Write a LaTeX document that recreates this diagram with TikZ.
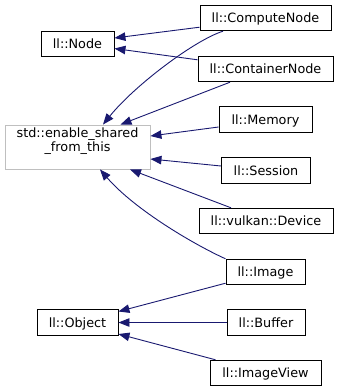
\documentclass[tikz,border=0pt]{standalone}
\usepackage{fontspec}
\setmainfont{DejaVu Sans}
\usetikzlibrary{arrows.meta}
\definecolor{edgeblue}{HTML}{191970}
\definecolor{extgray}{HTML}{BFBFBF}
\begin{document}
\begin{tikzpicture}[x=1pt,y=-1pt,
  cls/.style={draw=black, line width=0.9pt, fill=white, inner sep=0pt,
    minimum height=25.5pt, text height=9.3pt, text depth=0pt,
    font=\fontsize{12.8}{14.5}\selectfont, text=black},
  ext/.style={cls, draw=extgray, align=center},
  inh/.style={draw=edgeblue, line width=0.9pt, -{Triangle[length=11pt,width=8.5pt]}}
]
\useasboundingbox (0,0) rectangle (339,392);

% classes
\node[cls, minimum width=131pt] (cn)  at (265.5,18)    {ll::ComputeNode};
\node[cls, minimum width=73pt, minimum height=24.5pt] (nd) at (77.5,44) {ll::Node};
\node[cls, minimum width=135pt] (ctn) at (265.5,69)    {ll::ContainerNode};
\node[cls, minimum width=93pt]  (mem) at (265.5,119.5) {ll::Memory};
\node[ext, minimum width=145pt, minimum height=44pt] (esf) at (77.5,147)
  {std::enable\_shared\\\_from\_this};
\node[cls, minimum width=89pt]  (ses) at (266,170.5)   {ll::Session};
\node[cls, minimum width=134pt] (dev) at (266,221)     {ll::vulkan::Device};
\node[cls, minimum width=79pt]  (img) at (265.5,272)   {ll::Image};
\node[cls, minimum width=81pt]  (obj) at (77.5,322.5)  {ll::Object};
\node[cls, minimum width=78pt]  (buf) at (266,322.5)   {ll::Buffer};
\node[cls, minimum width=111pt] (iv)  at (265.5,373)   {ll::ImageView};

% inheritance edges (child -> base)
\draw[inh] ([yshift=4pt]cn.south west) -- ([yshift=6pt]nd.east);
\draw[inh] ([yshift=-4pt]ctn.north west) -- ([yshift=-4.5pt]nd.east);

\draw[inh] ([xshift=-42.5pt]cn.south) .. controls (195,40) and (135,85) .. ([xshift=25.5pt]esf.north);
\draw[inh] ([xshift=-35.5pt]ctn.south) -- ([xshift=43pt]esf.north);
\draw[inh] ([yshift=-7.5pt]mem.west) -- ([yshift=11pt]esf.east);
\draw[inh] ([yshift=4.5pt]ses.west) -- ([yshift=-12pt]esf.east);
\draw[inh] ([xshift=-35pt]dev.north) -- ([xshift=52.5pt]esf.south);
\draw[inh] (img.north west) .. controls (195,245) and (135,210) .. ([xshift=22.5pt]esf.south);

\draw[inh] ([yshift=2pt]img.south west) -- ([yshift=11pt]obj.east);
\draw[inh] (buf.west) -- (obj.east);
\draw[inh] ([xshift=6pt]iv.north west) -- ([yshift=-11.5pt]obj.east);
\end{tikzpicture}
\end{document}
